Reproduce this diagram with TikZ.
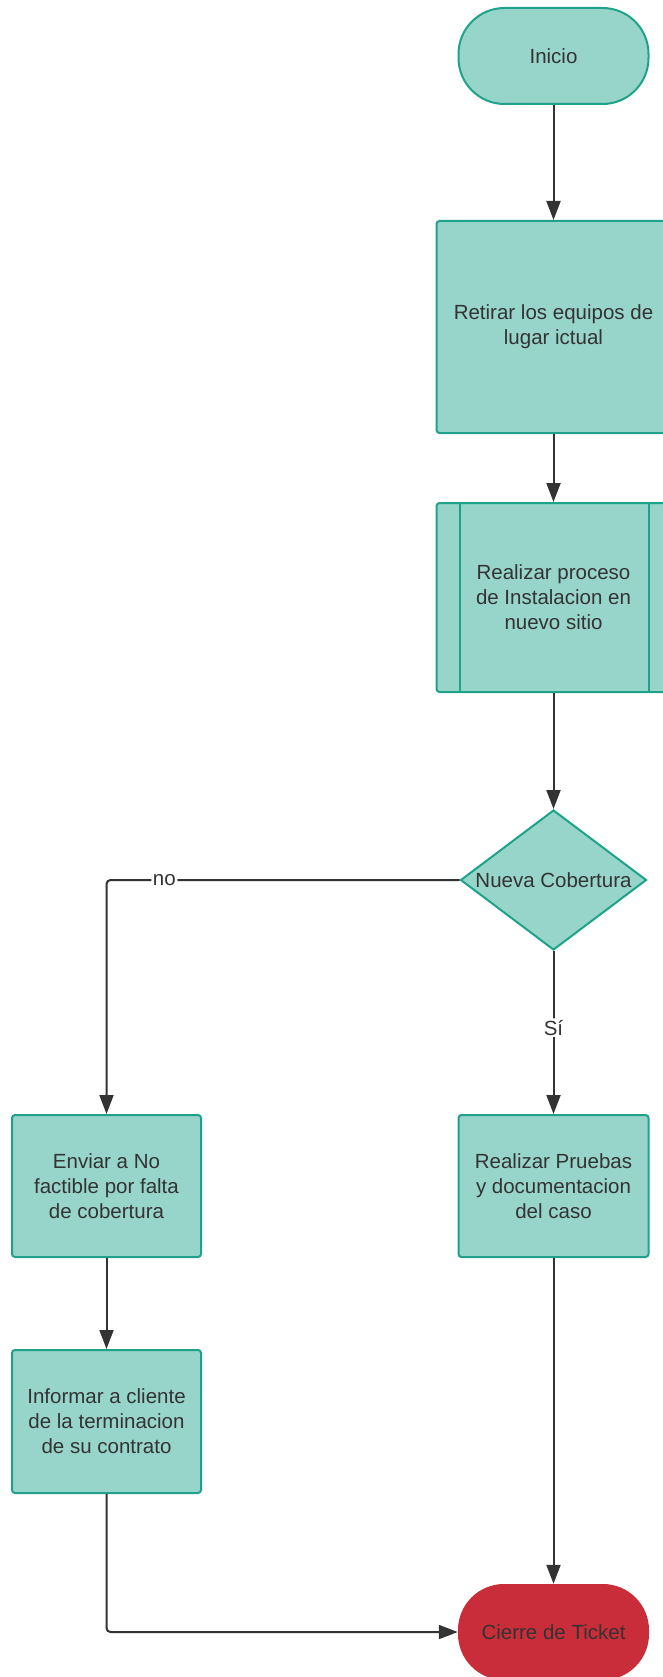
\documentclass[tikz,border=0pt]{standalone}
\usepackage{fontspec}
\setmainfont{Liberation Sans}
\usetikzlibrary{arrows.meta,shapes.geometric,calc}
\definecolor{tealfill}{HTML}{97D5CA}
\definecolor{tealline}{HTML}{1EA38A}
\definecolor{redfill}{HTML}{C92D39}
\definecolor{ink}{HTML}{333333}
\begin{document}
\begin{tikzpicture}[x=1pt,y=-1pt,
  base/.style={inner sep=0pt, align=center, text=ink,
    font=\fontsize{20.5}{25}\selectfont},
  procbox/.style={base, draw=tealline, fill=tealfill, line width=2pt,
    rounded corners=3pt},
  termbox/.style={base, draw=tealline, fill=tealfill, line width=2pt,
    rounded corners=46pt, minimum width=190pt, minimum height=96pt},
  endbox/.style={base, fill=redfill, rounded corners=46pt,
    minimum width=191pt, minimum height=96pt},
  decbox/.style={base, diamond, aspect=1.33, draw=tealline, fill=tealfill,
    line width=2pt, minimum width=186pt, minimum height=140pt},
  conn/.style={draw=ink, line width=2pt,
    -{Triangle[length=19pt,width=14pt]}, rounded corners=4pt},
  lbl/.style={base, fill=white, inner sep=1.5pt}
]
\useasboundingbox (0,0) rectangle (663,1677);

\node[termbox] (ini) at (553.5,56) {Inicio};
\node[procbox, minimum width=234pt, minimum height=212pt] (ret) at (553.5,327)
  {Retirar los equipos de\\lugar ictual};
\node[procbox, minimum width=234pt, minimum height=189pt] (proc) at (553.5,597.5)
  {Realizar proceso\\de Instalacion en\\nuevo sitio};
\draw[draw=tealline, line width=2pt]
  ([xshift=24pt]proc.north west) -- ([xshift=24pt]proc.south west)
  ([xshift=-23pt]proc.north east) -- ([xshift=-23pt]proc.south east);
\node[decbox] (dec) at (553.5,880) {Nueva Cobertura};
\node[procbox, minimum width=189pt, minimum height=142pt] (env) at (106.5,1186)
  {Enviar a No\\factible por falta\\de cobertura};
\node[procbox, minimum width=189pt, minimum height=143pt] (inf) at (106.5,1421.5)
  {Informar a cliente\\de la terminacion\\de su contrato};
\node[procbox, minimum width=190pt, minimum height=142pt] (pru) at (553.5,1186)
  {Realizar Pruebas\\y documentacion\\del caso};
\node[endbox] (cie) at (553.5,1632) {Cierre de Ticket};

\draw[conn] (ini) -- (ret);
\draw[conn] (ret) -- (proc);
\draw[conn] (proc) -- (dec);
\draw[conn] (dec.west) -| node[lbl, pos=0.418] {no} (env.north);
\draw[conn] (dec.south) -- node[lbl, pos=0.47] {Sí} (pru.north);
\draw[conn] (env) -- (inf);
\draw[conn] (pru) -- (cie);
\draw[conn] (inf.south) |- (cie.west);
\end{tikzpicture}
\end{document}
